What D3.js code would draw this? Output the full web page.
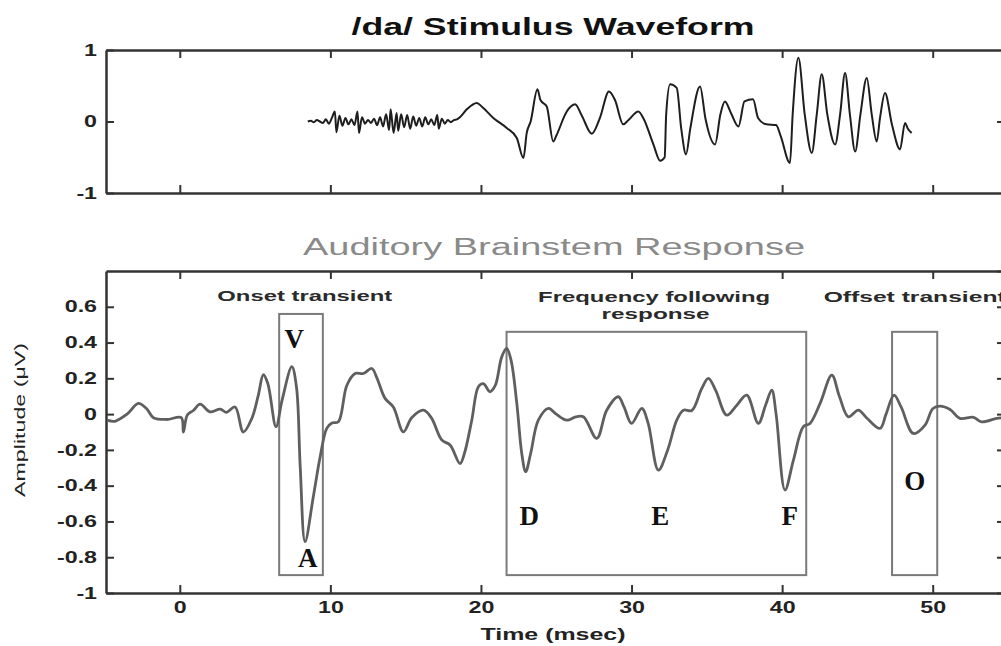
<!DOCTYPE html>
<html>
<head>
<meta charset="utf-8">
<script src="https://cdn.jsdelivr.net/npm/d3@7"></script>
<style>
  html, body { margin: 0; padding: 0; background: #fff; }
  svg { display: block; }
  text { font-family: "Liberation Sans", Arial, sans-serif; }
</style>
</head>
<body>
<svg id="chart" width="1001" height="646"></svg>
<script>
// /da/ stimulus waveform: time (ms) and normalised amplitude
const stimTime = [8.5,8.7,8.9,9.1,9.3,9.5,9.7,9.9,10.1,10.3,10.4,10.6,10.8,11.0,11.2,11.4,11.6,11.8,11.9,12.1,12.3,12.5,12.7,12.9,13.1,13.3,13.5,13.7,13.9,14.0,14.2,14.4,14.5,14.7,14.9,15.1,15.3,15.5,15.7,15.9,16.1,16.3,16.5,16.7,16.9,17.1,17.2,17.4,17.6,17.8,18.0,18.2,18.4,
  18.6,19.06,19.72,20.1,20.82,21.71,22.38,22.82,23.04,23.3,23.75,23.95,24.37,24.8,25.0,25.7,26.25,26.7,27.36,27.9,28.5,28.9,29.45,29.8,30.45,30.8,31.45,31.9,32.2,32.3,32.56,33.0,33.3,33.62,33.9,34.55,34.9,35.55,35.9,36.2,36.6,37.1,37.5,38.07,38.4,38.95,39.6,39.9,40.52,40.7,41.08,41.5,41.97,42.3,42.63,43.0,43.52,43.85,44.18,44.5,44.85,45.2,45.62,45.95,46.28,46.5,46.83,47.3,47.83,48.16,48.35,48.6];
const stimAmp = [0,0.01,-0.01,0.02,0,-0.02,0.03,-0.03,0.05,0.14,-0.15,0.08,-0.06,0.05,-0.04,0.03,-0.05,0.14,-0.16,0.06,-0.03,0.02,-0.02,0.04,-0.05,0.06,-0.07,0.10,-0.12,0.17,-0.16,0.12,-0.13,0.10,-0.08,0.09,-0.1,0.07,-0.06,0.05,-0.07,0.06,-0.04,0.03,-0.05,0.09,-0.1,0.04,-0.03,0.02,-0.01,0.02,0.03,
  0.06,0.17,0.26,0.2,0.05,-0.09,-0.23,-0.51,-0.16,0.0,0.45,0.3,0.21,-0.28,-0.2,0.14,0.24,0.08,-0.17,0.05,0.42,0.3,-0.04,0.02,0.14,0.04,-0.32,-0.55,-0.5,0.1,0.52,0.47,-0.1,-0.46,-0.1,0.49,0.05,-0.32,0.1,0.28,0.12,-0.07,0.28,0.31,0.05,-0.04,-0.05,-0.2,-0.58,0.1,0.89,0.1,-0.44,0.1,0.66,0.1,-0.32,0.1,0.68,0.1,-0.42,0.1,0.61,0.1,-0.28,0.05,0.40,-0.05,-0.39,-0.02,-0.1,-0.16];

// Auditory brainstem response: time (ms) and amplitude (µV)
const abrTime = [-4.83,-4.3,-3.5,-2.75,-2.2,-1.75,-0.87,0.1,0.24,0.5,0.9,1.35,2.0,2.68,3.1,3.67,4.22,4.78,5.2,5.55,5.85,6.39,6.8,7.44,7.75,8.0,8.32,8.87,9.32,9.76,10.1,10.53,11.09,11.64,12.19,12.75,13.1,13.63,14.18,14.85,15.4,16.18,16.7,17.4,17.95,18.61,18.9,19.39,19.83,20.16,20.6,20.95,21.38,21.71,22.0,22.38,22.71,22.97,23.3,23.81,24.48,25.0,25.7,26.3,26.8,27.69,28.35,29.12,29.5,30.0,30.68,31.1,31.78,32.4,33.0,33.44,34.0,34.66,35.1,35.6,36.32,36.99,37.65,38.42,38.9,39.31,39.6,40.19,40.75,41.41,41.85,42.52,43.3,43.8,44.4,45.06,45.6,46.5,46.9,47.43,47.9,48.71,49.49,50.0,50.48,51.15,51.81,52.7,53.25,54.25,54.75];
const abrAmp = [-0.034,-0.04,0.0,0.06,0.03,-0.02,-0.03,-0.02,-0.1,-0.005,0.02,0.056,0.013,0.028,0.01,0.04,-0.1,-0.025,0.1,0.22,0.17,-0.07,0.08,0.265,0.15,-0.3,-0.713,-0.46,-0.24,-0.08,-0.05,-0.043,0.16,0.227,0.227,0.255,0.2,0.088,0.04,-0.099,-0.02,0.022,-0.02,-0.145,-0.173,-0.276,-0.22,-0.034,0.153,0.17,0.125,0.16,0.32,0.367,0.3,0.06,-0.22,-0.322,-0.22,-0.034,0.032,0.0,-0.034,-0.015,-0.015,-0.136,0.022,0.097,0.04,-0.052,0.032,-0.05,-0.313,-0.2,-0.034,0.022,0.02,0.143,0.2,0.13,-0.006,0.05,0.106,-0.052,0.05,0.134,0.0,-0.425,-0.257,-0.07,-0.052,0.06,0.218,0.1,-0.015,0.022,-0.02,-0.08,0.0,0.106,0.04,-0.108,-0.061,0.03,0.045,0.026,-0.024,-0.018,-0.043,-0.024,-0.02];

// Tick values
const timeTicks = [0, 10, 20, 30, 40, 50];
const stimTicks = [-1, 0, 1];
const abrTicks = [-1, -0.8, -0.6, -0.4, -0.2, 0, 0.2, 0.4, 0.6];

// Response windows: [start ms, end ms, top µV, bottom µV]
const regionNames = ["onset", "ffr", "offset"];
const regionStart = [6.6, 21.7, 47.3];
const regionEnd = [9.5, 41.6, 50.3];
const regionTop = [0.56, 0.46, 0.46];
const regionBottom = [-0.9, -0.9, -0.9];

// Region headings
const headingText = ["Onset transient", "Frequency following", "response", "Offset transient"];
const headingTime = [8.3, 31.5, 31.6, 48.8];
const headingAmp = [0.635, 0.625, 0.53, 0.625];
const headingWidth = [175, 232, 108, 182];

// Peak labels
const peakText = ["V", "A", "D", "E", "F", "O"];
const peakTime = [7.6, 8.5, 23.2, 31.9, 40.5, 48.8];
const peakAmp = [0.37, -0.855, -0.62, -0.62, -0.62, -0.425];

const svg = d3.select("#chart");

const x = d3.scaleLinear().domain([-4.9, 54.8]).range([106, 1005]);
const yStim = d3.scaleLinear().domain([-1, 1]).range([193, 50]);
const yAbr = d3.scaleLinear().domain([-1, 0.8]).range([593, 271]);

function stretch(sel, factor) {
  sel.each(function () {
    const w = this.getComputedTextLength();
    d3.select(this).attr("textLength", w * factor).attr("lengthAdjust", "spacingAndGlyphs");
  });
}
function stretchTo(sel, width) {
  sel.attr("textLength", width).attr("lengthAdjust", "spacingAndGlyphs");
}

// plain hyphen for negative numbers
const numFmt = d => String(+(+d).toFixed(1));

function styleAxis(g, labels) {
  g.select(".domain").attr("stroke", "#333").attr("stroke-width", 2.5);
  g.selectAll(".tick line").attr("stroke", "#333").attr("stroke-width", 2);
  if (labels) {
    g.selectAll(".tick text")
      .attr("fill", "#222")
      .style("font-size", "16px")
      .style("font-weight", "bold")
      .call(stretch, 1.45);
  } else {
    g.selectAll(".tick text").remove();
  }
}

function panel(yScale, yTicks, rightTicks) {
  const [yb, yt] = yScale.range();
  svg.append("g").attr("transform", `translate(0,${yb})`)
    .call(d3.axisBottom(x).tickValues(timeTicks).tickSize(-8).tickSizeOuter(0).tickPadding(9).tickFormat(numFmt))
    .call(g => styleAxis(g, yScale === yAbr));
  svg.append("g").attr("transform", `translate(0,${yt})`)
    .call(d3.axisTop(x).tickValues(timeTicks).tickSize(-8).tickSizeOuter(0))
    .call(g => styleAxis(g, false));
  svg.append("g").attr("transform", `translate(${x.range()[0]},0)`)
    .call(d3.axisLeft(yScale).tickValues(yTicks).tickSize(-8).tickSizeOuter(0).tickPadding(9).tickFormat(numFmt))
    .call(g => styleAxis(g, true));
  svg.append("g").attr("transform", `translate(${x.range()[1]},0)`)
    .call(d3.axisRight(yScale).tickValues(rightTicks).tickSize(-8).tickSizeOuter(0))
    .call(g => styleAxis(g, false));
}

panel(yStim, stimTicks, [0]);
panel(yAbr, abrTicks, abrTicks.concat([0.8]));

// Stimulus trace
const stimLine = d3.line().curve(d3.curveMonotoneX)
  .x(i => x(stimTime[i])).y(i => yStim(stimAmp[i]));
svg.append("path")
  .attr("d", stimLine(d3.range(stimTime.length)))
  .attr("fill", "none").attr("stroke", "#1e1e1e").attr("stroke-width", 2)
  .attr("stroke-linejoin", "round");

// Response windows
regionNames.forEach((n, i) => {
  svg.append("rect")
    .attr("class", "region-" + n)
    .attr("x", x(regionStart[i]))
    .attr("y", yAbr(regionTop[i]))
    .attr("width", x(regionEnd[i]) - x(regionStart[i]))
    .attr("height", yAbr(regionBottom[i]) - yAbr(regionTop[i]))
    .attr("fill", "none").attr("stroke", "#7a7a7a").attr("stroke-width", 2);
});

// ABR trace
const abrLine = d3.line().curve(d3.curveCatmullRom.alpha(0.5))
  .x(i => x(abrTime[i])).y(i => yAbr(abrAmp[i]));
svg.append("path")
  .attr("d", abrLine(d3.range(abrTime.length)))
  .attr("fill", "none").attr("stroke", "#5f5f5f").attr("stroke-width", 2.8)
  .attr("stroke-linejoin", "round");

// Region headings
headingText.forEach((t, i) => {
  svg.append("text")
    .attr("x", x(headingTime[i])).attr("y", yAbr(headingAmp[i]))
    .attr("text-anchor", "middle")
    .attr("fill", "#2a2a2a")
    .style("font-size", "15px").style("font-weight", "bold")
    .text(t)
    .call(stretchTo, headingWidth[i]);
});

// Peak labels
peakText.forEach((t, i) => {
  svg.append("text")
    .attr("x", x(peakTime[i])).attr("y", yAbr(peakAmp[i]))
    .attr("text-anchor", "middle")
    .attr("fill", "#111")
    .style("font-family", "'Liberation Serif', 'Times New Roman', serif")
    .style("font-size", "27px").style("font-weight", "bold")
    .text(t);
});

// Titles
svg.append("text")
  .attr("x", 553).attr("y", 35).attr("text-anchor", "middle")
  .attr("fill", "#111").style("font-size", "23px").style("font-weight", "bold")
  .text("/da/ Stimulus Waveform")
  .call(stretchTo, 403);

svg.append("text")
  .attr("x", 554).attr("y", 255).attr("text-anchor", "middle")
  .attr("fill", "#8a8a8a").style("font-size", "23px")
  .text("Auditory Brainstem Response")
  .call(stretchTo, 502);

// Axis titles
svg.append("text")
  .attr("x", 553).attr("y", 640).attr("text-anchor", "middle")
  .attr("fill", "#222").style("font-size", "16px").style("font-weight", "bold")
  .text("Time (msec)")
  .call(stretchTo, 145);

svg.append("text")
  .attr("transform", "translate(25,420) rotate(-90)")
  .attr("text-anchor", "middle")
  .attr("fill", "#222").style("font-size", "15px")
  .text("Amplitude (μV)")
  .call(stretchTo, 154);
</script>
</body>
</html>
